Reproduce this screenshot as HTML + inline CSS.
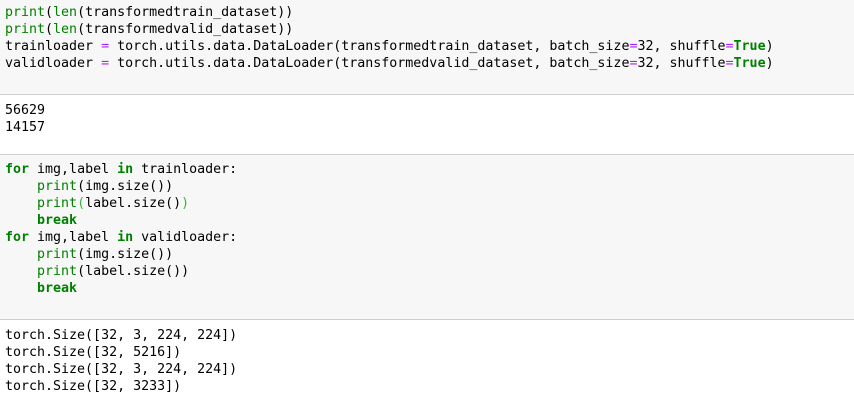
<!DOCTYPE html>
<html><head><style>
body{margin:0;width:854px;height:403px;background:#fff;overflow:hidden;position:relative;font-family:"DejaVu Sans Mono","Liberation Mono",monospace;font-size:13.3px;color:#000}
.c{position:absolute;left:0;width:854px;background:#f7f7f7}
.b{position:absolute;left:0;width:854px;height:1px;background:#cfcfcf}
pre{position:absolute;left:5px;margin:0;font:inherit;line-height:17px;white-space:pre}
.g{color:#008000}.k{color:#008000;font-weight:bold}.o{color:#aa22ff}.bl{color:#3ab53a}
</style></head><body>
<div class="c" style="top:0;height:94px"></div>
<div class="b" style="top:94px"></div>
<pre style="top:4px"><span class="g">print</span>(<span class="g">len</span>(transformedtrain_dataset))
<span class="g">print</span>(<span class="g">len</span>(transformedvalid_dataset))
trainloader <span class="o">=</span> torch.utils.data.DataLoader(transformedtrain_dataset, batch_size<span class="o">=</span>32, shuffle<span class="o">=</span><span class="k">True</span>)
validloader <span class="o">=</span> torch.utils.data.DataLoader(transformedvalid_dataset, batch_size<span class="o">=</span>32, shuffle<span class="o">=</span><span class="k">True</span>)</pre>
<pre style="top:102px">56629
14157</pre>
<div class="b" style="top:154px"></div>
<div class="c" style="top:155px;height:164px"></div>
<div class="b" style="top:319px"></div>
<pre style="top:161px"><span class="k">for</span> img,label <span class="k">in</span> trainloader:
    <span class="g">print</span>(img.size())
    <span class="g">print</span><span class="bl">(</span>label.size()<span class="bl">)</span>
    <span class="k">break</span>
<span class="k">for</span> img,label <span class="k">in</span> validloader:
    <span class="g">print</span>(img.size())
    <span class="g">print</span>(label.size())
    <span class="k">break</span></pre>
<pre style="top:327px">torch.Size([32, 3, 224, 224])
torch.Size([32, 5216])
torch.Size([32, 3, 224, 224])
torch.Size([32, 3233])</pre>
</body></html>
